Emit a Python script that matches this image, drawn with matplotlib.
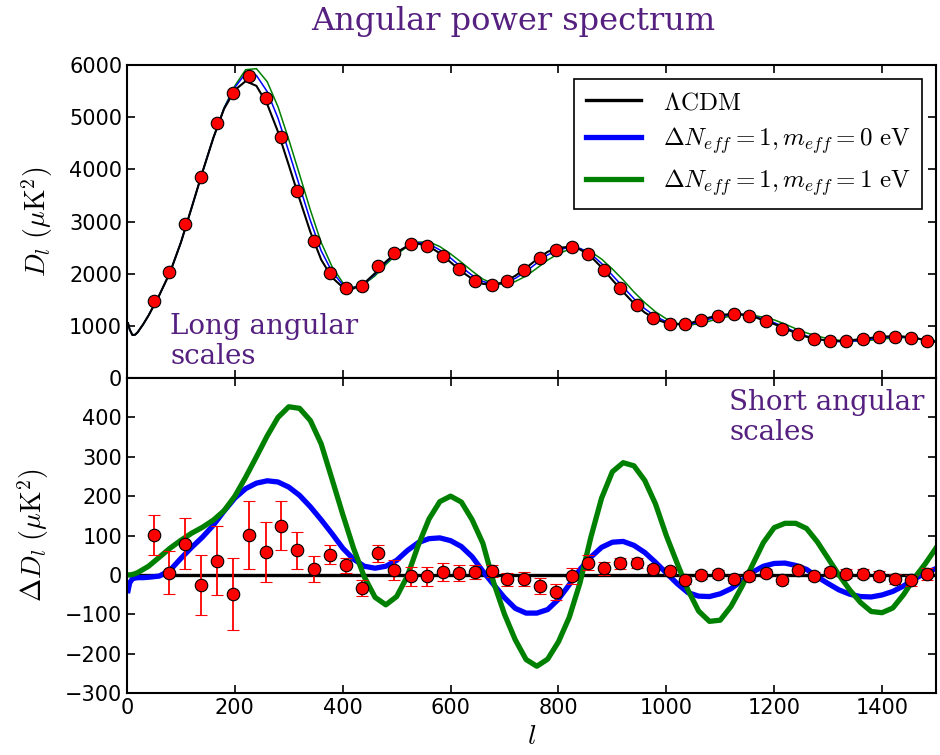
import numpy as np
import matplotlib
matplotlib.use('Agg')
import matplotlib.pyplot as plt

plt.rcParams['mathtext.fontset'] = 'cm'
plt.rcParams['font.family'] = 'DejaVu Sans'
plt.rcParams['xtick.direction'] = 'in'
plt.rcParams['ytick.direction'] = 'in'
plt.rcParams['xtick.top'] = True
plt.rcParams['ytick.right'] = True
plt.rcParams['xtick.major.size'] = 5.5
plt.rcParams['ytick.major.size'] = 5.5
plt.rcParams['xtick.major.width'] = 1.2
plt.rcParams['ytick.major.width'] = 1.2

# multipole grid for the model curves
ell = [2, 5, 10, 15, 20, 30, 40, 60, 80, 100, 120, 140, 160, 180, 200, 220, 240, 260, 280, 300,
       320, 340, 360, 380, 400, 420, 440, 460, 480, 500, 520, 540, 560, 580, 600, 620, 640, 660, 680, 700,
       720, 740, 760, 780, 800, 820, 840, 860, 880, 900, 920, 940, 960, 980, 1000, 1020, 1040, 1060, 1080, 1100,
       1120, 1140, 1160, 1180, 1200, 1220, 1240, 1260, 1280, 1300, 1320, 1340, 1360, 1380, 1400, 1420, 1440, 1460, 1480, 1500]

# top panel: LCDM spectrum
lcdm = [1050, 930, 825, 830, 880, 1030, 1200, 1590, 2030, 2600, 3270, 3950, 4600, 5160, 5520, 5690, 5600, 5250, 4720, 4080,
        3430, 2800, 2270, 1930, 1740, 1715, 1820, 2010, 2230, 2410, 2530, 2575, 2525, 2390, 2220, 2045, 1900, 1805, 1785, 1845,
        1960, 2110, 2275, 2420, 2495, 2515, 2465, 2330, 2120, 1880, 1650, 1430, 1255, 1130, 1055, 1030, 1040, 1100, 1160, 1205,
        1228, 1220, 1185, 1105, 1035, 950, 860, 790, 745, 718, 712, 722, 745, 770, 792, 802, 795, 770, 725, 690]

# top panel: offsets of the two extra-neutrino models from LCDM
top_off_m0 = [0, 0, 0, 0, 0, 0, 0, 0, 0, 0, 0, 0, 0, 10, 50, 150, 200, 240, 260, 260,
              250, 220, 170, 110, 50, 15, -10, -20, -20, -10, 5, 20, 45, 65, 80, 80, 70, 45, 10, -25,
              -50, -65, -70, -60, -40, -10, 20, 50, 75, 90, 95, 90, 75, 50, 25, 0, -20, -30, -30, -25,
              -15, 0, 10, 20, 25, 25, 20, 15, 5, -5, -15, -20, -25, -25, -20, -15, -10, 0, 5, 10]
top_off_m1 = [0, 0, 0, 0, 0, 0, 0, 0, 0, 0, 0, 0, 0, 20, 80, 220, 330, 430, 480, 490,
              470, 420, 330, 210, 90, 25, -20, -50, -55, -40, -10, 30, 85, 130, 160, 175, 150, 90, 20, -50,
              -110, -155, -170, -160, -110, -50, 10, 90, 160, 210, 230, 220, 190, 140, 80, 20, -30, -60, -70, -60,
              -40, -10, 20, 60, 80, 85, 85, 75, 60, 35, 10, -15, -35, -45, -45, -35, -20, 0, 15, 25]

# bottom panel: residuals w.r.t. LCDM
d_m0 = [-40, -20, -10, -8, -7, -7, -6, -3, 12, 42, 70, 96, 126, 162, 195, 219, 233, 239, 236, 223,
        202, 173, 140, 105, 68, 40, 22, 17, 22, 37, 62, 82, 92, 94, 87, 72, 46, 9, -25, -58,
        -85, -97, -97, -88, -62, -25, 14, 45, 70, 83, 85, 75, 57, 32, 5, -22, -45, -54, -55, -48,
        -35, -15, 7, 22, 29, 30, 24, 14, -5, -22, -38, -49, -55, -56, -51, -42, -28, -10, 4, 16]

d_m1 = [0, 0, 1, 3, 6, 14, 22, 45, 68, 88, 106, 121, 139, 163, 200, 248, 300, 353, 400, 427,
        423, 392, 333, 244, 154, 68, -5, -57, -76, -55, -3, 75, 142, 186, 200, 185, 140, 80, -20, -100,
        -165, -215, -232, -214, -170, -108, -20, 95, 195, 262, 285, 277, 240, 180, 100, 30, -38, -92, -118, -115,
        -80, -30, 26, 82, 120, 131, 131, 118, 84, 42, 0, -38, -70, -93, -96, -84, -50, -8, 28, 68]

# binned data
l_bins = [50, 78, 108, 138, 167, 197, 227, 257, 286, 316, 346, 376, 406, 436, 466, 496, 526, 556, 586, 616,
          646, 676, 705, 736, 765, 795, 825, 855, 885, 915, 945, 975, 1006, 1035, 1065, 1095, 1125, 1154, 1185, 1215,
          1245, 1274, 1304, 1334, 1364, 1394, 1424, 1454, 1484]
dl_data = [1479, 2029, 2945, 3861, 4879, 5456, 5782, 5360, 4622, 3592, 2618, 2017, 1735, 1773, 2144, 2401, 2561, 2528, 2336, 2081,
           1863, 1792, 1863, 2075, 2305, 2445, 2503, 2382, 2067, 1721, 1395, 1153, 1043, 1030, 1114, 1191, 1222, 1191, 1095, 947,
           845, 749, 703, 717, 755, 793, 793, 761, 703]
res_data = [102, 6, 79, -26, 36, -49, 101, 58, 125, 62, 15, 51, 24, -33, 55, 13, -4, -4, 7, 5,
            7, 10, -11, -10, -29, -44, -2, 31, 17, 29, 31, 16, 9, -13, 0, 2, -10, -2, 5, -13,
            13, -2, 7, 3, 3, -2, -10, -14, 2]
res_err = [51, 55, 65, 77, 87, 91, 87, 77, 62, 47, 34, 24, 20, 20, 22, 25, 25, 24, 23, 20,
           18, 16, 17, 18, 20, 20, 20, 19, 17, 13, 13, 10, 10, 10, 10, 10, 10, 10, 10, 10,
           10, 10, 11, 11, 12, 12, 13, 14, 15]

labels = [r'$\Lambda\mathrm{CDM}$',
          r'$\Delta N_{eff}=1, m_{eff}=0\ \mathrm{eV}$',
          r'$\Delta N_{eff}=1, m_{eff}=1\ \mathrm{eV}$']

purple = '#55207f'

ell = np.array(ell)
lcdm = np.array(lcdm)
top_m0 = lcdm + np.array(top_off_m0)
top_m1 = lcdm + np.array(top_off_m1)

fig = plt.figure(figsize=(9.4, 7.55), dpi=100, facecolor='white')
ax1 = fig.add_axes([0.1351, 0.4993, 0.8606, 0.4146])
ax2 = fig.add_axes([0.1351, 0.0821, 0.8606, 0.4172])

ax1.plot(ell, top_m1, color='green', lw=1.1)
ax1.plot(ell, top_m0, color='blue', lw=1.1)
ax1.plot(ell, lcdm, color='black', lw=1.5)
ax1.plot(l_bins, dl_data, 'o', color='red', mec='black', mew=0.8, ms=9)
ax1.set_xlim(0, 1500)
ax1.set_ylim(0, 6000)
ax1.set_xticks(range(0, 1501, 200))
ax1.set_xticklabels([])
ax1.set_ylabel(r'$D_l\ (\mu\mathrm{K}^2)$', fontsize=20, labelpad=10)

h0, = ax2.plot(ell, np.zeros(len(ell)), color='black', lw=2.4)
h1, = ax2.plot(ell, d_m0, color='blue', lw=3.8)
h2, = ax2.plot(ell, d_m1, color='green', lw=3.8)
ax2.errorbar(l_bins, res_data, yerr=res_err, fmt='o', color='red', ecolor='red', mec='black',
             mew=0.8, ms=9, elinewidth=1.3, capsize=4, capthick=1.3, zorder=5)
ax2.set_xlim(0, 1500)
ax2.set_ylim(-300, 500)
ax2.set_xticks(range(0, 1501, 200))
ax2.set_yticks(range(-300, 401, 100))
ax2.set_ylabel(r'$\Delta D_l\ (\mu\mathrm{K}^2)$', fontsize=20, labelpad=10)
ax2.set_xlabel(r'$l$', fontsize=20, labelpad=3)

for ax in (ax1, ax2):
    ax.tick_params(labelsize=15)
    for s in ax.spines.values():
        s.set_linewidth(1.5)

leg = ax1.legend([h0, h1, h2], labels, loc='upper right', fontsize=18, fancybox=False,
                 framealpha=1, edgecolor='black', borderaxespad=0.55, handlelength=2.2,
                 handletextpad=0.9, labelspacing=0.45, borderpad=0.45)
leg.get_frame().set_linewidth(1.2)

fig.text(0.546, 0.971, 'Angular power spectrum', ha='center', va='center',
         fontsize=23, family='DejaVu Serif', color=purple)
fig.text(0.181, 0.585, 'Long angular\nscales', ha='left', va='top',
         fontsize=20, family='DejaVu Serif', color=purple, linespacing=1.15)
fig.text(0.776, 0.485, 'Short angular\nscales', ha='left', va='top',
         fontsize=20, family='DejaVu Serif', color=purple, linespacing=1.15)

fig.savefig('out.png', dpi=100, facecolor='white')
